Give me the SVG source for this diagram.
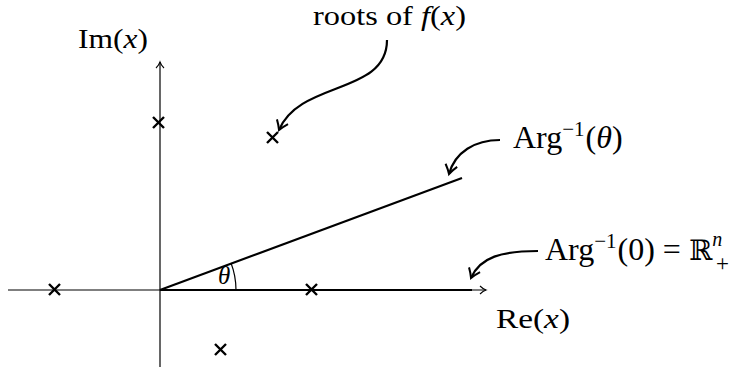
<svg xmlns="http://www.w3.org/2000/svg" width="742" height="371" viewBox="0 0 742 371">
<style>
text{font-family:"Liberation Serif","DejaVu Serif",serif;font-size:28px;fill:#000}
.it{font-style:italic}
.sup{font-size:21px}
.sm{font-size:20px}
.pl{font-size:23px}
.big{font-size:32px}
.ax{stroke:#000;stroke-width:1.2;fill:none}
.thick{stroke:#000;stroke-width:2.2;fill:none}
.cur{stroke:#000;stroke-width:2.2;fill:none}
.x{stroke:#000;stroke-width:2.4;fill:none}
</style>
<defs>
<marker id="ah" markerWidth="10" markerHeight="10" refX="7" refY="5" orient="auto" markerUnits="userSpaceOnUse">
<path d="M1,1 Q4,4 7,5 Q4,6 1,9" fill="none" stroke="#000" stroke-width="1.1"/>
</marker>
<marker id="bh" markerWidth="16" markerHeight="16" refX="10" refY="8" orient="auto" markerUnits="userSpaceOnUse">
<path d="M1,2 Q6,6 10,8 Q6,10 1,14" fill="none" stroke="#000" stroke-width="2"/>
</marker>
</defs>
<g id="axes">
<line class="ax" x1="8" y1="290" x2="486" y2="290" marker-end="url(#ah)"/>
<line class="ax" x1="160" y1="367" x2="160" y2="62" marker-end="url(#ah)"/>
</g>
<g id="rays">
<line class="thick" x1="160" y1="290" x2="472" y2="290"/>
<line class="thick" x1="160" y1="290" x2="462" y2="178"/>
<path class="ax" d="M236,290 A76,76 0 0 0 231,263" stroke-width="1.5"/>
</g>
<g id="roots">
<path class="x" d="M153,117 l11,11 M164,117 l-11,11"/>
<path class="x" d="M267,132 l11,11 M278,132 l-11,11"/>
<path class="x" d="M49,284 l11,11 M60,284 l-11,11"/>
<path class="x" d="M306,284 l11,11 M317,284 l-11,11"/>
<path class="x" d="M215,344 l11,11 M226,344 l-11,11"/>
</g>
<g id="connectors">
<path class="cur" d="M387,40 C387,95 300,80 279,130" marker-end="url(#bh)"/>
<path class="cur" d="M500,140 C475,140 455,152 449,174" marker-end="url(#bh)"/>
<path class="cur" d="M538,251 C502,251 480,257 471,278" marker-end="url(#bh)"/>
</g>
<g id="labels">
<text x="78" y="48" textLength="70" lengthAdjust="spacingAndGlyphs">Im(<tspan class="it">x</tspan>)</text>
<text x="313" y="25" textLength="153" lengthAdjust="spacingAndGlyphs">roots of <tspan class="it">f</tspan>(<tspan class="it">x</tspan>)</text>
<text x="513" y="148" class="big">Arg<tspan class="sup" dy="-12">−1</tspan><tspan dx="1" dy="12">(</tspan><tspan class="it">θ</tspan>)</text>
<text x="545" y="260" class="big">Arg<tspan class="sup" dy="-12">−1</tspan><tspan dx="1" dy="12">(0) = </tspan><tspan font-family="DejaVu Serif" font-size="28">ℝ</tspan><tspan class="sm it" dy="-14">n</tspan></text>
<text x="716" y="271" class="pl">+</text>
<text class="it" x="218" y="284" style="font-size:25px">θ</text>
<text x="496" y="328" textLength="74" lengthAdjust="spacingAndGlyphs">Re(<tspan class="it">x</tspan>)</text>
</g>
</svg>
